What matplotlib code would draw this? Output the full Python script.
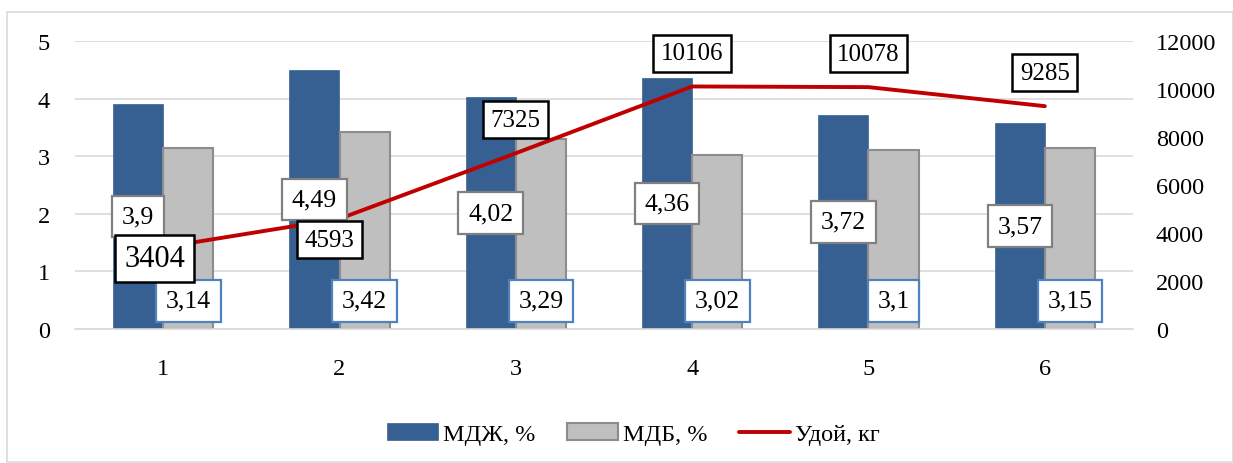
import numpy as np
import matplotlib
matplotlib.use("Agg")
import matplotlib.pyplot as plt
from matplotlib.patches import Rectangle

plt.rcParams['font.family'] = ['Liberation Serif', 'DejaVu Serif']

# data
groups = ['1', '2', '3', '4', '5', '6']
mdzh = [3.9, 4.49, 4.02, 4.36, 3.72, 3.57]
mdb = [3.14, 3.42, 3.29, 3.02, 3.1, 3.15]
udoi = [3404, 4593, 7325, 10106, 10078, 9285]

mdzh_txt = ['3,9', '4,49', '4,02', '4,36', '3,72', '3,57']
mdb_txt = ['3,14', '3,42', '3,29', '3,02', '3,1', '3,15']

# label offsets (points) for the yield labels
udoi_off = [(-6, -8), (-7, -15), (0, 24), (0, 24), (0, 24), (0, 24)]
udoi_fs = [22, 18, 18, 18, 18, 18]

blue = '#376092'
grey = '#BFBFBF'
red = '#C00000'

fig = plt.figure(figsize=(12.33, 4.64), dpi=100)
fig.patches.append(Rectangle((7/1233, 0.002), 1 - 7/1233, 1 - 13/464 - 0.002,
                             transform=fig.transFigure, fill=False,
                             edgecolor='#D9D9D9', linewidth=1.2))

ax = fig.add_axes([75/1233, 1 - 330/464, (1133 - 75)/1233, (330 - 42)/464])
x = np.arange(1, len(groups) + 1)
w = 0.284

b1 = ax.bar(x - w/2, mdzh, w, color=blue, edgecolor=blue, linewidth=0.5,
            label='МДЖ, %', zorder=2)
b2 = ax.bar(x + w/2, mdb, w, color=grey, edgecolor='#8C8C8C', linewidth=1.5,
            label='МДБ, %', zorder=2)

ax.set_xlim(0.5, 6.5)
ax.set_ylim(0, 5)
ax.set_yticks(range(0, 6))
ax.set_xticks(x)
ax.set_xticklabels(groups)
ax.grid(axis='y', color='#D9D9D9', linewidth=1.2, zorder=0)
for s in ['top', 'right', 'left']:
    ax.spines[s].set_visible(False)
ax.spines['bottom'].set_color('#D9D9D9')
ax.spines['bottom'].set_linewidth(1.2)
ax.tick_params(axis='both', length=0, labelsize=17.5)
ax.tick_params(axis='x', pad=21)
ax.tick_params(axis='y', pad=18)

ax2 = ax.twinx()
ln, = ax2.plot(x, udoi, color=red, linewidth=2.8, solid_capstyle='round',
               label='Удой, кг', zorder=3)
ax2.set_ylim(0, 12000)
ax2.set_yticks(range(0, 12001, 2000))
for s in ['top', 'right', 'left', 'bottom']:
    ax2.spines[s].set_visible(False)
ax2.tick_params(axis='y', length=0, labelsize=17.5, pad=16.5)

# data labels
for xi, v, t in zip(x, mdzh, mdzh_txt):
    ax2.annotate(t, (xi - w/2, v / 2 * 2400), ha='center', va='center',
                 fontsize=18.5, zorder=5,
                 bbox=dict(boxstyle='square,pad=0.38', fc='white',
                           ec='#808080', lw=1.6))
for xi, v, t in zip(x, mdb, mdb_txt):
    ax2.annotate(t, (xi + w/2, 0.49 * 2400), ha='center', va='center',
                 fontsize=18.5, zorder=5,
                 bbox=dict(boxstyle='square,pad=0.38', fc='white',
                           ec='#4F81BD', lw=1.6))
for xi, v, off, fs in zip(x, udoi, udoi_off, udoi_fs):
    ax2.annotate(str(v), (xi, v), xytext=off, textcoords='offset points',
                 ha='center', va='center', fontsize=fs, zorder=6,
                 bbox=dict(boxstyle='square,pad=0.3', fc='white',
                           ec='black', lw=1.8))

fig.legend(handles=[b1, b2, ln], loc='center', bbox_to_anchor=(633/1233, 1 - 435/464),
           ncol=3, frameon=False, fontsize=17.5, handlelength=2.1,
           handletextpad=0.2, columnspacing=1.3)

fig.savefig('out.png', dpi=100)
